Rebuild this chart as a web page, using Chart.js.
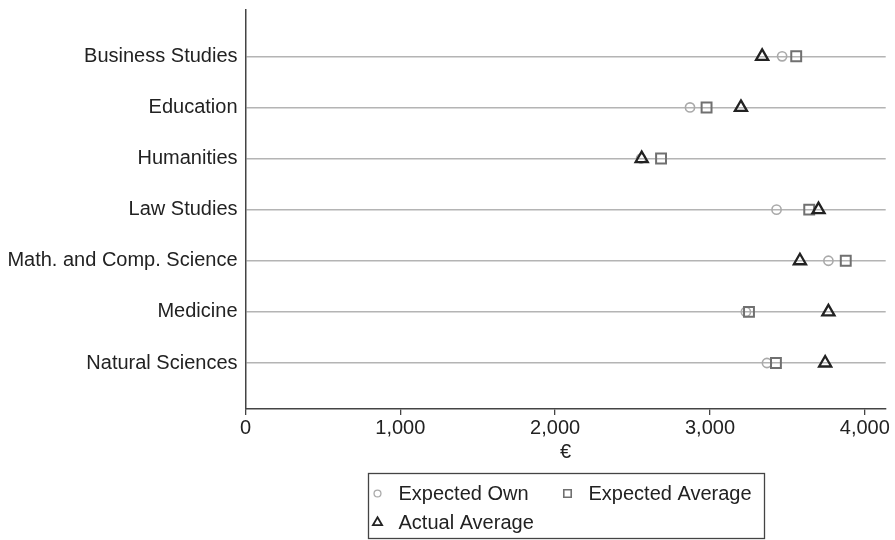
<!DOCTYPE html>
<html>
<head>
<meta charset="utf-8">
<script src="https://cdn.jsdelivr.net/npm/chart.js@4.4.1/dist/chart.umd.min.js"></script>
<style>
  html, body { margin: 0; padding: 0; background: #fff; }
  #wrap { width: 895px; height: 540px; }
</style>
</head>
<body>
<div id="wrap"><canvas id="chart"></canvas></div>
<script>
var categories = ["Business Studies", "Education", "Humanities", "Law Studies",
                  "Math. and Comp. Science", "Medicine", "Natural Sciences"];
var expectedOwn     = [3466, 2871, 2555, 3430, 3765, 3232, 3368];
var expectedAverage = [3557, 2978, 2684, 3641, 3877, 3252, 3426];
var actualAverage   = [3337, 3200, 2559, 3701, 3581, 3765, 3744];
var xTicks = [0, 1000, 2000, 3000, 4000];

var FONT = "'Liberation Sans', Arial, sans-serif";
var FSIZE = 20;

function points(values) {
    return values.map(function (v, i) { return { x: v, y: i + 1 }; });
}

// legend drawn in a framed box under the axis title, two columns
var boxLegend = {
    id: "boxLegend",
    afterDraw: function (chart) {
        var ctx = chart.ctx;
        var ca = chart.chartArea;
        var w = 396, h = 65;
        var left = Math.round((ca.left + ca.right) / 2 - w / 2) + 0.5;
        var top = 473.5;
        ctx.save();
        ctx.strokeStyle = "#444";
        ctx.lineWidth = 1.3;
        ctx.strokeRect(left, top, w, h);
        var slots = [[9, 20], [199, 20], [9, 49]];
        ctx.font = FSIZE + "px " + FONT;
        ctx.textBaseline = "middle";
        chart.data.datasets.forEach(function (ds, i) {
            var sx = left + slots[i][0], sy = top + slots[i][1];
            ctx.strokeStyle = ds.pointBorderColor;
            ctx.fillStyle = "rgba(0,0,0,0)";
            ctx.lineWidth = ds.pointBorderWidth * 0.8;
            Chart.helpers.drawPoint(ctx, {
                pointStyle: ds.pointStyle,
                radius: ds.pointRadius * 0.75,
                borderWidth: ds.pointBorderWidth * 0.8
            }, sx, sy);
            ctx.fillStyle = "#222";
            ctx.fillText(ds.label, sx + 21, sy + 1);
        });
        ctx.restore();
    }
};

document.addEventListener("DOMContentLoaded", function () {
    var ctx = document.getElementById("chart").getContext("2d");
    var chart = new Chart(ctx, {
        type: "scatter",
        data: {
            datasets: [{
                label: "Expected Own",
                data: points(expectedOwn),
                pointStyle: "circle",
                pointRadius: 4.6,
                pointBorderColor: "#aaaaaa",
                pointBackgroundColor: "rgba(0,0,0,0)",
                pointBorderWidth: 1.6,
                order: 2
            }, {
                label: "Expected Average",
                data: points(expectedAverage),
                pointStyle: "rect",
                pointRadius: 7,
                pointBorderColor: "#707070",
                pointBackgroundColor: "rgba(0,0,0,0)",
                pointBorderWidth: 2,
                order: 1
            }, {
                label: "Actual Average",
                data: points(actualAverage),
                pointStyle: "triangle",
                pointRadius: 7,
                pointBorderColor: "#222222",
                pointBackgroundColor: "rgba(0,0,0,0)",
                pointBorderWidth: 2.3,
                order: 0
            }]
        },
        options: {
            responsive: true,
            maintainAspectRatio: false,
            animation: false,
            layout: { padding: { top: 7, right: 8, bottom: 76, left: 0 } },
            plugins: {
                legend: { display: false },
                tooltip: { enabled: false }
            },
            scales: {
                x: {
                    type: "linear",
                    min: 0,
                    max: 4135,
                    afterBuildTicks: function (s) {
                        s.ticks = xTicks.map(function (v) { return { value: v }; });
                    },
                    afterFit: function (s) {
                        s.height = 55;
                        s.paddingLeft = 0;
                        s.paddingRight = 0;
                    },
                    grid: { display: true, drawOnChartArea: false, drawTicks: true,
                            tickLength: 6, color: "#444", lineWidth: 1.3 },
                    border: { color: "#444", width: 1.5 },
                    ticks: {
                        color: "#222",
                        padding: 1,
                        font: { family: FONT, size: FSIZE },
                        maxRotation: 0,
                        callback: function (v) { return v.toLocaleString("en-US"); }
                    },
                    title: {
                        display: true,
                        text: "€",
                        color: "#222",
                        padding: 0,
                        font: { family: FONT, size: FSIZE }
                    }
                },
                y: {
                    type: "linear",
                    reverse: true,
                    min: 0.08,
                    max: 7.9,
                    afterBuildTicks: function (s) {
                        s.ticks = categories.map(function (c, i) { return { value: i + 1 }; });
                    },
                    afterFit: function (s) {
                        s.width = 245.5;
                        s.paddingTop = 0;
                        s.paddingBottom = 0;
                    },
                    grid: { color: "#b4b4b4", lineWidth: 1.5, drawTicks: false },
                    border: { color: "#444", width: 1.5 },
                    ticks: {
                        color: "#222",
                        padding: 8,
                        font: { family: FONT, size: FSIZE },
                        callback: function (v) { return categories[v - 1]; }
                    }
                }
            }
        },
        plugins: [boxLegend]
    });
});
</script>
</body>
</html>
